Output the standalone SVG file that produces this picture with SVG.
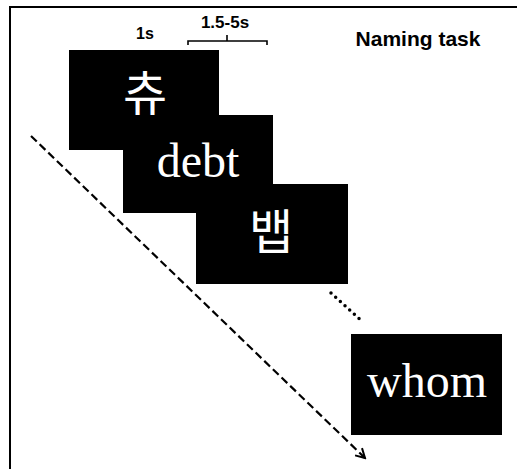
<svg xmlns="http://www.w3.org/2000/svg" width="517" height="469" viewBox="0 0 517 469">
<style>
.box{fill:#000}
.lat{font-family:"Liberation Serif","Times New Roman",serif;font-size:48px;fill:#fff;text-anchor:middle}
.kor{font-family:"Noto Sans CJK KR","Noto Sans",sans-serif;font-size:48px;fill:#fff;text-anchor:middle}
.lbl{font-family:"Liberation Sans",Arial,sans-serif;font-weight:bold;fill:#000;text-anchor:middle}
.frame{stroke:#000;stroke-width:2;fill:none}
</style>
<defs>
<marker id="arr" viewBox="0 0 12 12" refX="10" refY="6" markerWidth="12" markerHeight="12" markerUnits="userSpaceOnUse" orient="auto">
<path d="M1,1 L10,6 L1,11" fill="none" stroke="#000" stroke-width="2"/>
</marker>
</defs>
<rect width="517" height="469" fill="#fff"/>
<path class="frame" d="M10,469 V7 H517"/>
<g id="labels">
<text class="lbl" x="145" y="39" font-size="16">1s</text>
<text class="lbl" x="225" y="28" font-size="17">1.5-5s</text>
<path d="M188,45 V41 H267 V45 M227,41 V35" fill="none" stroke="#000" stroke-width="1.6"/>
<text class="lbl" x="418" y="46" font-size="21">Naming task</text>
</g>
<g id="stim1"><rect class="box" x="69" y="50" width="150" height="100"/><text class="kor" x="145" y="111">츄</text></g>
<g id="stim2"><rect class="box" x="123" y="115" width="150" height="98"/><text class="lat" x="198" y="177">debt</text></g>
<g id="stim3"><rect class="box" x="196" y="184" width="152" height="100"/><text class="kor" x="271" y="249">뱁</text></g>
<g id="stim4"><rect class="box" x="351" y="334" width="151" height="101"/><text class="lat" x="427" y="397">whom</text></g>
<g id="connectors">
<path d="M31,136 L365,458" fill="none" stroke="#000" stroke-width="2.2" stroke-dasharray="8 4" marker-end="url(#arr)"/>
<path d="M331,293 L363,322" fill="none" stroke="#000" stroke-width="3.5" stroke-linecap="round" stroke-dasharray="0 6.3"/>
</g>
</svg>
